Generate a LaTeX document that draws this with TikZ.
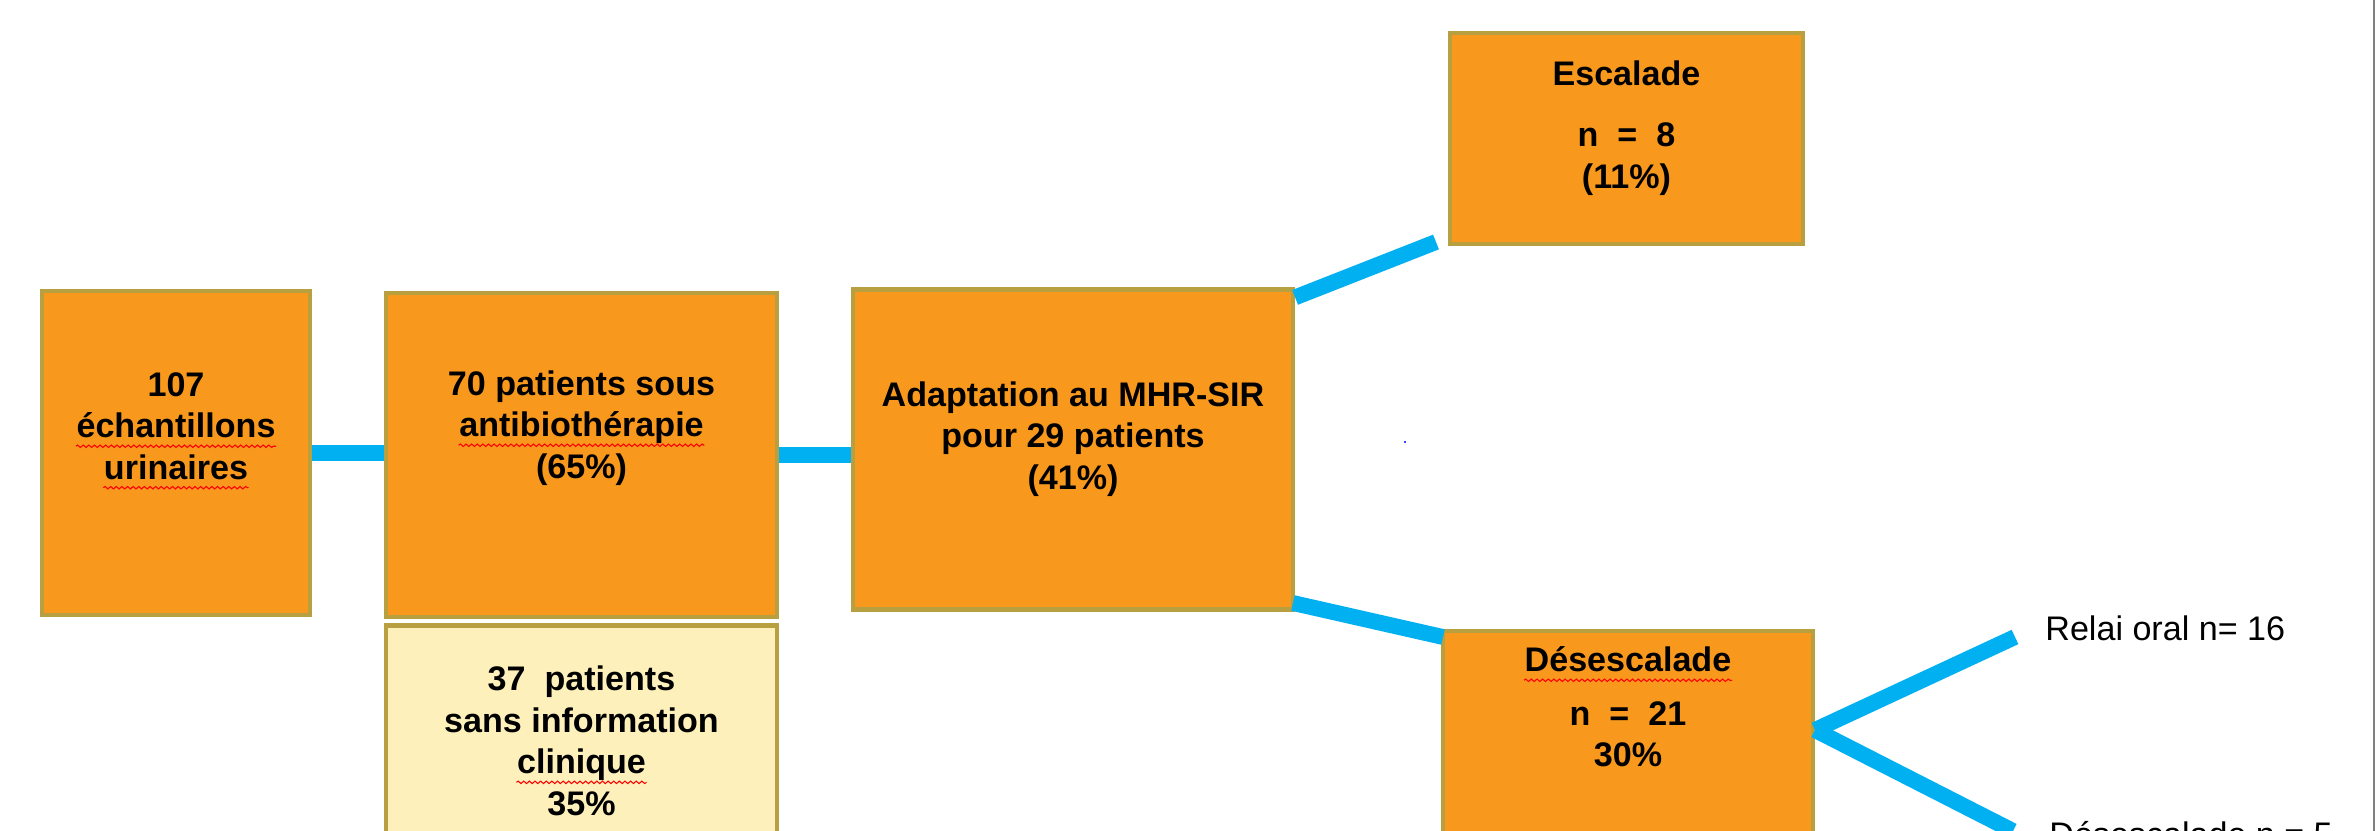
\documentclass[tikz,border=0pt]{standalone}
\usepackage{fontspec}
\setmainfont{Liberation Sans}
\usetikzlibrary{positioning,decorations.pathmorphing}

\definecolor{boxorange}{RGB}{248,152,29}
\definecolor{boxedge}{RGB}{184,160,64}
\definecolor{boxcream}{RGB}{253,240,187}
\definecolor{linkcyan}{RGB}{0,176,240}

% red wavy spell-check mark under a word
\newcommand\spellmark[1]{\tikz[baseline=(w.base)]{\node[inner sep=0pt] (w) {#1};
  \draw[red, line width=0.3pt, decorate, decoration={snake, amplitude=0.35pt, segment length=1.6pt}]
    ([yshift=-2.4pt]w.base west) -- ([yshift=-2.4pt]w.base east);}}

\tikzset{
  flowbox/.style={draw=boxedge, line width=1.2pt, fill=boxorange, rectangle, inner sep=0pt},
  boxtext/.style={align=center, font=\fontsize{9.7}{11.8}\selectfont\bfseries},
  plaintext/.style={font=\fontsize{9.7}{11.8}\selectfont},
  link/.style={linkcyan, line width=4.5pt}
}

\begin{document}
\begin{tikzpicture}[y=-1cm]
    % Fix the page to the reference size
    \useasboundingbox (0,0) rectangle (23.77,8.31);

    % Define the boxes of the flow
    \node[flowbox, minimum width=2.68cm, minimum height=3.24cm] (ech) at (1.76,4.53) {};
    \node[flowbox, minimum width=3.91cm, minimum height=3.24cm] (atb) at (5.815,4.55) {};
    \node[flowbox, fill=boxcream, minimum width=3.91cm, minimum height=2.6cm, below=1.2pt of atb] (noinfo) {};
    \node[flowbox, minimum width=4.40cm, minimum height=3.20cm] (adapt) at (10.73,4.495) {};
    \node[flowbox, minimum width=3.53cm, minimum height=2.11cm] (esc) at (16.265,1.385) {};
    \node[flowbox, minimum width=3.70cm, minimum height=2.6cm] (desc) at (16.28,7.61) {};

    % Draw the texts inside the boxes
    \node[boxtext] (ech-t) at (1.76,4.31) {107\\\spellmark{échantillons}\\\spellmark{urinaires}};
    \node[boxtext] (atb-t) at (5.815,4.28) {70 patients sous\\\spellmark{antibiothérapie}\\(65\%)};
    \node[boxtext] (noinfo-t) at (5.815,7.41) {37\ \ patients\\sans information\\\spellmark{clinique}\\35\%};
    \node[boxtext] (adapt-t) at (10.73,4.39) {Adaptation au MHR-SIR\\pour 29 patients\\(41\%)};
    \node[boxtext] (esc-t) at (16.265,1.28) {Escalade\\[0.2cm]n\ \ =\ \ 8\\(11\%)};
    \node[boxtext] (desc-t) at (16.28,7.07) {\spellmark{Désescalade}\\[0.12cm]n\ \ =\ \ 21\\30\%};

    % Free ends of the connectors
    \coordinate (esc-in) at (14.36,2.42);
    \coordinate (adapt-out) at (12.93,6.03);
    \coordinate (desc-in) at (14.43,6.37);
    \coordinate (fork) at (18.15,7.30);
    \coordinate (oral-in) at (20.15,6.37);
    \coordinate (deesc-in) at (20.13,8.31);

    % Draw the connectors
    \draw[link] (ech.east) -- (ech.east -| atb.west);
    \draw[link] (atb.east) -- (atb.east -| adapt.west);
    \draw[link] ([yshift=-0.1cm]adapt.north east) -- (esc-in);
    \draw[link] (adapt-out) -- (desc-in);
    \draw[link] (fork) -- (oral-in);
    \draw[link] (fork) -- (deesc-in);

    % Draw the labels at the ends of the fork
    \node[plaintext, anchor=base west] (oral) at (20.33,6.40) {Relai oral n= 16};
    \node[plaintext, anchor=base west] (deesc) at (20.37,8.46) {Désescalade n = 5};

    % Small dot and right frame line
    \fill[blue] (14.05,4.42) circle (0.012);
    \draw[gray, line width=0.6pt] (23.74,0) -- (23.74,8.31);

\end{tikzpicture}
\end{document}
